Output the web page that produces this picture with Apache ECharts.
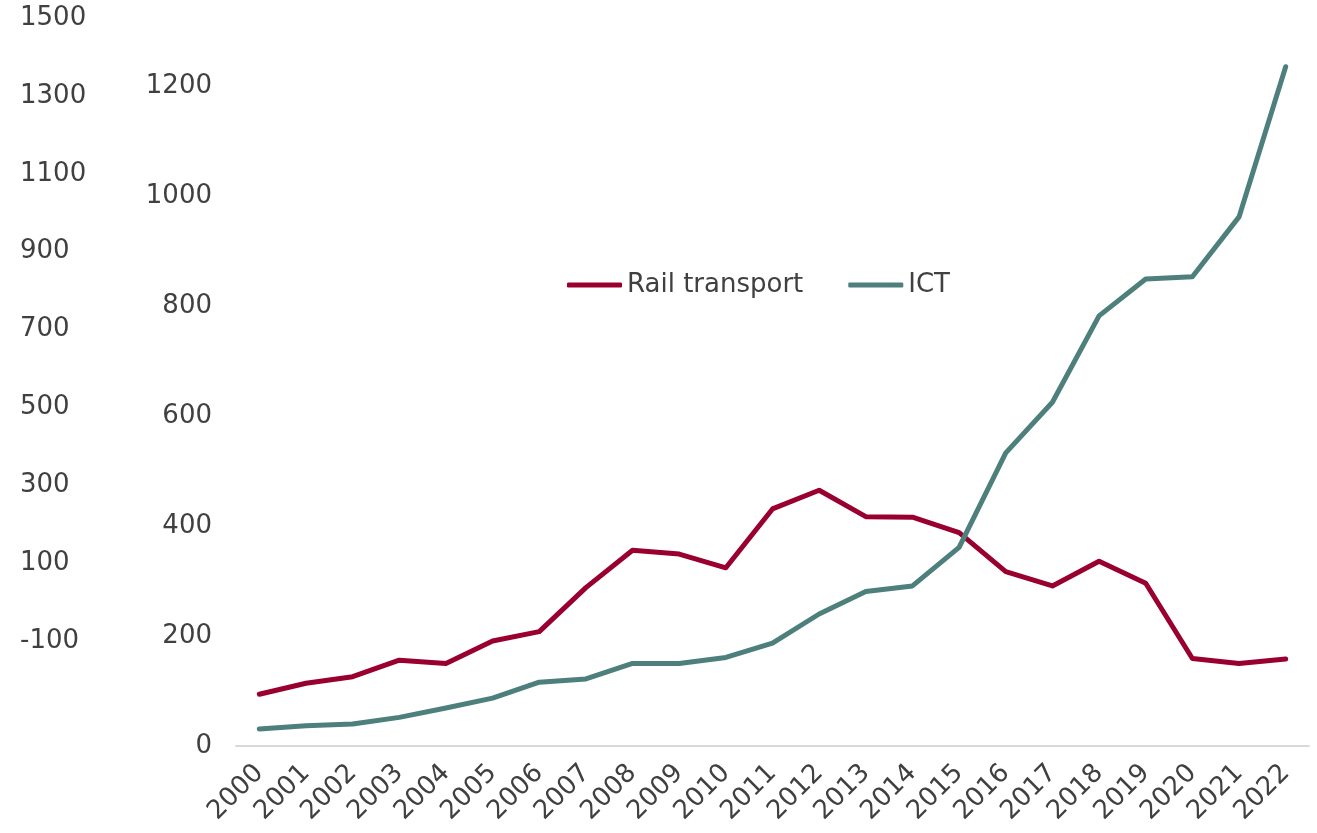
<!DOCTYPE html>
<html>
<head>
<meta charset="utf-8">
<script src="https://cdn.jsdelivr.net/npm/echarts@6/dist/echarts.min.js"></script>
<style>
  html, body { margin: 0; padding: 0; background: #fff; }
  #chart { width: 1317px; height: 833px; }
</style>
</head>
<body>
<div id="chart"></div>
<script>
var years = ['2000', '2001', '2002', '2003', '2004', '2005', '2006', '2007', '2008', '2009', '2010', '2011',
  '2012', '2013', '2014', '2015', '2016', '2017', '2018', '2019', '2020', '2021', '2022'];
var rail = [94, 114, 126, 156, 150, 191, 208, 288, 356, 349, 324, 431,
  465, 417, 416, 388, 317, 291, 336, 296, 159, 150, 158];
var ict = [31, 37, 40, 52, 69, 87, 116, 122, 150, 150, 161, 187,
  240, 281, 291, 361, 533, 625, 782, 849, 853, 962, 1235];
var innerTicks = [0, 200, 400, 600, 800, 1000, 1200];
var outerTicks = [-100, 100, 300, 500, 700, 900, 1100, 1300, 1500];

var textColor = '#404040';
var font = 'Verdana, "DejaVu Sans", sans-serif';

// plain numbers, no thousand separators
function plain(v) {
  return String(v);
}

var chart = echarts.init(document.getElementById('chart'));

chart.setOption({
  animation: false,
  textStyle: { fontFamily: font, color: textColor },
  grid: { left: 236, right: 8, top: 18, bottom: 87, containLabel: false },
  legend: {
    data: ['Rail transport', 'ICT'],
    icon: 'roundRect',
    left: 562,
    top: 267,
    itemWidth: 55,
    itemHeight: 5,
    itemGap: 45,
    textStyle: { fontSize: 26, color: textColor, fontFamily: font }
  },
  xAxis: {
    type: 'category',
    data: years,
    boundaryGap: true,
    axisLine: { lineStyle: { color: '#d9d9d9', width: 2 } },
    axisTick: { show: false },
    axisLabel: { rotate: 45, interval: 0, fontSize: 26, color: textColor, margin: 23, fontFamily: font }
  },
  yAxis: [{
    type: 'value',
    min: 0,
    max: 1323.6,
    position: 'left',
    splitLine: { show: false },
    axisLine: { show: false },
    axisTick: { show: false },
    axisLabel: { customValues: innerTicks, formatter: plain, fontSize: 26, color: textColor, margin: 24, fontFamily: font }
  }, {
    type: 'value',
    min: -369.6,
    max: 1500,
    position: 'left',
    splitLine: { show: false },
    axisLine: { show: false },
    axisTick: { show: false },
    axisLabel: { customValues: outerTicks, formatter: plain, fontSize: 26, color: textColor, margin: 216, align: 'left', fontFamily: font }
  }],
  series: [{
    name: 'Rail transport',
    type: 'line',
    data: rail,
    yAxisIndex: 0,
    symbol: 'none',
    color: '#990030',
    lineStyle: { width: 5, color: '#990030', cap: 'round', join: 'round' }
  }, {
    name: 'ICT',
    type: 'line',
    data: ict,
    yAxisIndex: 0,
    symbol: 'none',
    color: '#4d7f7c',
    lineStyle: { width: 5, color: '#4d7f7c', cap: 'round', join: 'round' }
  }]
});
</script>
</body>
</html>
